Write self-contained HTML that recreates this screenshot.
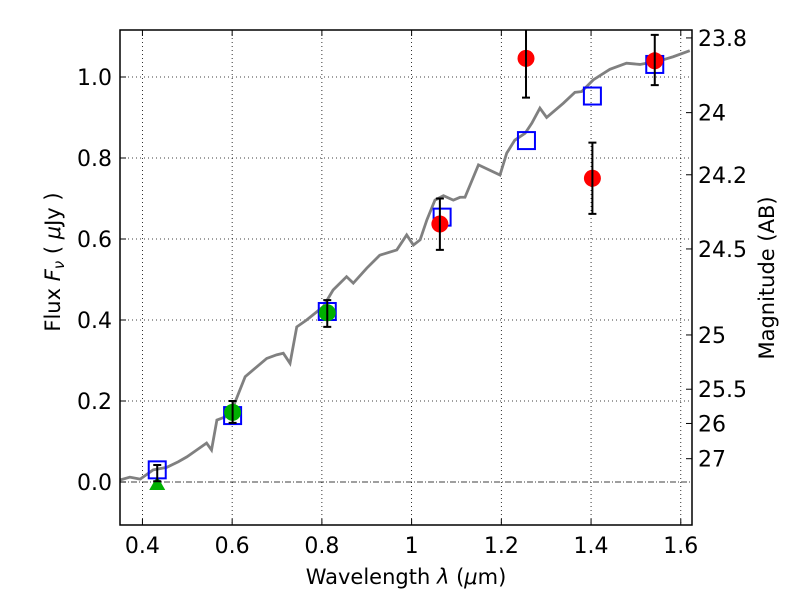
<!DOCTYPE html>
<html><head><meta charset="utf-8"><style>
body{margin:0;background:#fff;width:800px;height:600px;overflow:hidden}
svg{font-family:"DejaVu Sans","Liberation Sans",sans-serif}
</style></head><body>
<svg id="chart" width="800" height="600" xmlns="http://www.w3.org/2000/svg">
<rect width="800" height="600" fill="#fff"/>
<g id="grid"></g>
<g id="marks"></g>
<g id="axes"></g>
<text x="406" y="584" font-size="21" text-anchor="middle">Wavelength  <tspan font-style="italic">λ</tspan> (<tspan font-style="italic">μ</tspan>m)</text>
<text transform="translate(60,262) rotate(-90)" font-size="21" text-anchor="middle">Flux  <tspan font-style="italic">F<tspan font-size="15" dy="4">ν</tspan></tspan><tspan dy="-4">  ( </tspan><tspan font-style="italic">μ</tspan>Jy )</text>
<text transform="translate(774,278) rotate(-90)" font-size="21" text-anchor="middle">Magnitude (AB)</text>
</svg>
<script>
const modelWave=[0.350,0.372,0.395,0.424,0.454,0.480,0.499,0.521,0.543,0.554,0.566,0.595,0.629,0.647,0.677,0.699,0.714,0.729,0.744,0.766,0.803,0.825,0.855,0.870,0.900,0.929,0.967,0.989,1.004,1.019,1.034,1.052,1.071,1.093,1.108,1.119,1.149,1.197,1.212,1.230,1.253,1.268,1.286,1.301,1.338,1.364,1.379,1.405,1.442,1.479,1.509,1.553,1.583,1.620];
const modelFlux=[0.005,0.012,0.007,0.030,0.036,0.050,0.062,0.079,0.096,0.079,0.153,0.165,0.260,0.277,0.305,0.314,0.318,0.293,0.383,0.400,0.433,0.474,0.507,0.491,0.528,0.560,0.573,0.610,0.585,0.598,0.647,0.696,0.707,0.696,0.703,0.703,0.783,0.758,0.812,0.844,0.861,0.886,0.923,0.900,0.935,0.962,0.964,0.993,1.019,1.034,1.031,1.040,1.050,1.065];
const redWave=[1.063,1.255,1.403,1.542];
const redFlux=[0.637,1.046,0.750,1.040];
const redLo=[0.573,0.949,0.662,0.980];
const redHi=[0.700,1.145,0.838,1.104];
const greenWave=[0.601,0.812];
const greenFlux=[0.172,0.418];
const greenLo=[0.146,0.383];
const greenHi=[0.200,0.449];
const triWave=[0.433];
const triFlux=[-0.005];
const triErrLo=[0.002];
const triErrHi=[0.042];
const blueWave=[0.433,0.601,0.812,1.068,1.256,1.403,1.542];
const blueFlux=[0.030,0.164,0.421,0.654,0.843,0.953,1.031];
const xTicks=[0.4,0.6,0.8,1.0,1.2,1.4,1.6];
const xTickLabels=["0.4","0.6","0.8","1","1.2","1.4","1.6"];
const yTicks=[0,0.2,0.4,0.6,0.8,1.0];
const yTickLabels=["0.0","0.2","0.4","0.6","0.8","1.0"];
const magTicks=[23.8,24,24.2,24.5,25,25.5,26,27];
const magLabels=["23.8","24","24.2","24.5","25","25.5","26","27"];

const L=120,R=692,T=30,B=525;
const X=v=>L+(v-0.35)/(1.625-0.35)*(R-L);
const Y=v=>482-v*405;
const NS="http://www.w3.org/2000/svg";
function mk(parent,tag,attrs){const e=document.createElementNS(NS,tag);for(const k in attrs)e.setAttribute(k,attrs[k]);document.getElementById(parent).appendChild(e);return e;}

xTicks.forEach((t,i)=>{
 const g=mk('grid','line',{x1:X(t),x2:X(t),y1:T,y2:B,stroke:'#000','stroke-width':0.8,'stroke-dasharray':'1,3'});
 
 
 const a=mk('axes','line',{x1:X(t),x2:X(t),y1:B,y2:B-6,stroke:'#000'});
 
 
 const b=mk('axes','line',{x1:X(t),x2:X(t),y1:T,y2:T+6,stroke:'#000'});
 
 
 const tx=mk('axes','text',{x:X(t),y:B+28,'font-size':22,'text-anchor':'middle'});
 tx.textContent=xTickLabels[i];
 
 
});
yTicks.forEach((t,i)=>{
 if(t!==0){const g=mk('grid','line',{x1:L,x2:R,y1:Y(t),y2:Y(t),stroke:'#000','stroke-width':0.8,'stroke-dasharray':'1,3'});
 
 }
 const a=mk('axes','line',{x1:L,x2:L+6,y1:Y(t),y2:Y(t),stroke:'#000'});
 
 
 const tx=mk('axes','text',{x:L-8,y:Y(t)+8,'font-size':22,'text-anchor':'end'});
 tx.textContent=yTickLabels[i];
 
 
});
const zl=mk('grid','line',{x1:L,x2:R,y1:Y(0),y2:Y(0),stroke:'#000','stroke-width':0.8,'stroke-dasharray':'6,2,1,2'});


magTicks.forEach((m,i)=>{
 const y=Y(Math.pow(10,(23.9-m)/2.5));
 const a=mk('axes','line',{x1:R,x2:R-6,y1:y,y2:y,stroke:'#000'});
 
 
 const tx=mk('axes','text',{x:R+6,y:y+8,'font-size':22});
 tx.textContent=magLabels[i];
 
 
});
const fr=mk('axes','rect',{x:L,y:T,width:R-L,height:B-T,fill:'none',stroke:'#000','stroke-width':1.5});



const cp=mk('marks','clipPath',{id:'clip'});
const cr=document.createElementNS(NS,'rect');cr.setAttribute('x',L);cr.setAttribute('y',T);cr.setAttribute('width',R-L);cr.setAttribute('height',B-T);cp.appendChild(cr);

const pl=mk('marks','polyline',{points:modelWave.map((w,i)=>X(w)+','+Y(modelFlux[i])).join(' '),fill:'none',stroke:'#808080','stroke-width':2.8,'clip-path':'url(#clip)'});



function errbar(x,lo,hi){
 const g=mk('marks','path',{d:`M${X(x)},${Y(lo)}V${Y(hi)}M${X(x)-4},${Y(lo)}h8M${X(x)-4},${Y(hi)}h8`,stroke:'#000','stroke-width':2,fill:'none','clip-path':'url(#clip)'});
 
 
}
triWave.forEach((w,i)=>{
 const x=X(w),y=Y(triFlux[i]);
 const p=mk('marks','polygon',{points:`${x},${y-8} ${x-8},${y+6} ${x+8},${y+6}`,fill:'#00b000'});
 
 
});
blueWave.forEach((w,i)=>{
 const s=mk('marks','rect',{x:X(w)-8.5,y:Y(blueFlux[i])-8.5,width:17,height:17,fill:'none',stroke:'#0000ff','stroke-width':2});
 
 
});
triWave.forEach((w,i)=>errbar(w,triErrLo[i],triErrHi[i]));
greenWave.forEach((w,i)=>{
 const c=mk('marks','circle',{cx:X(w),cy:Y(greenFlux[i]),r:8.5,fill:'#00b000'});
 
 
 errbar(w,greenLo[i],greenHi[i]);
});
redWave.forEach((w,i)=>{
 const c=mk('marks','circle',{cx:X(w),cy:Y(redFlux[i]),r:8.5,fill:'#ff0000'});
 
 
 errbar(w,redLo[i],redHi[i]);
});
</script>
</body></html>
